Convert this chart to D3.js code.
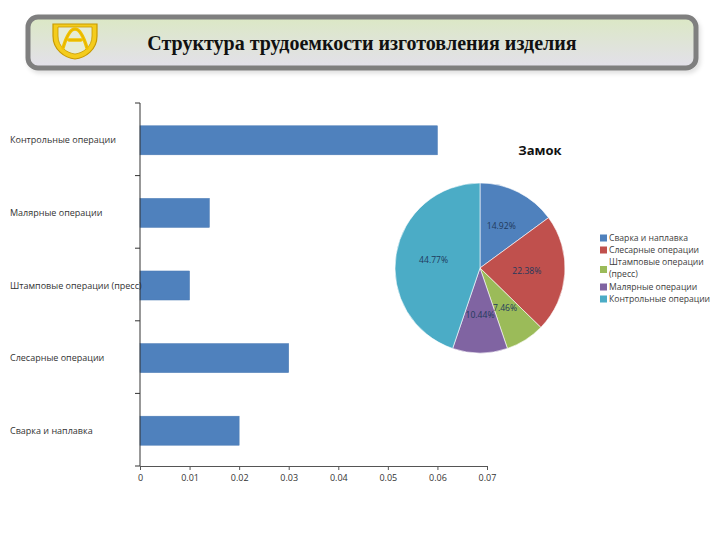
<!DOCTYPE html>
<html><head><meta charset="utf-8">
<script src="https://cdn.jsdelivr.net/npm/d3@7"></script>
<style>body{margin:0;background:#fff}</style>
</head><body>
<svg id="c" width="720" height="540"></svg>
<script>
const title = "Структура трудоемкости изготовления изделия";
const barCategories = ["Контрольные операции","Малярные операции","Штамповые операции (пресс)","Слесарные операции","Сварка и наплавка"];
const barValues = [0.06, 0.014, 0.01, 0.03, 0.02];
const xTicks = [0,0.01,0.02,0.03,0.04,0.05,0.06,0.07];
const xTickLabels = ["0","0.01","0.02","0.03","0.04","0.05","0.06","0.07"];
const pieTitle = "Замок";
const pieCategories = ["Сварка и наплавка","Слесарные операции","Штамповые операции (пресс)","Малярные операции","Контрольные операции"];
const pieValues = [14.92, 22.38, 7.46, 10.44, 44.77];
const pieColors = ["#4f81bd","#c0504d","#9bbb59","#8064a2","#4bacc6"];

const svg = d3.select("#c");
const defs = svg.append("defs");
const g1 = defs.append("linearGradient").attr("id","hdr").attr("x1",0).attr("y1",0).attr("x2",0).attr("y2",1);
g1.append("stop").attr("offset","0%").attr("stop-color","#dbe8c4");
g1.append("stop").attr("offset","100%").attr("stop-color","#e3e0eb");
const f = defs.append("filter").attr("id","sh").attr("x","-5%").attr("y","-20%").attr("width","110%").attr("height","150%");
f.append("feDropShadow").attr("dx",2).attr("dy",3).attr("stdDeviation",2).attr("flood-color","#000").attr("flood-opacity",0.12);

// header box
svg.append("rect").attr("x",28).attr("y",17).attr("width",668).attr("height",51).attr("rx",10)
  .attr("fill","url(#hdr)").attr("stroke","#7f7f7f").attr("stroke-width",5).attr("filter","url(#sh)");
// shield logo
const lg = svg.append("g").attr("transform","translate(75,24)");
lg.append("path").attr("d","M-22,0 L22,0 L22,12 C22,26 10,34 0,35 C-10,34 -22,26 -22,12 Z")
  .attr("fill","#f4cc1c").attr("stroke","#c89a00").attr("stroke-width",1.2);
lg.append("path").attr("d","M-17,3 L17,3 L17,12 C17,23 8,29 0,30 C-8,29 -17,23 -17,12 Z")
  .attr("fill","#e6ecd6").attr("stroke","#c89a00").attr("stroke-width",0.8);
lg.append("path").attr("d","M-12,24 C-9,14 -5,5 0,5 C5,5 9,14 12,24 M-6,16 L6,16").attr("fill","none").attr("stroke","#f2c200").attr("stroke-width",3.4).attr("stroke-linecap","round");
lg.append("path").attr("d","M-12,24 C-9,14 -5,5 0,5 C5,5 9,14 12,24 M-6,16 L6,16").attr("fill","none").attr("stroke","#c89a00").attr("stroke-width",0.6).attr("stroke-opacity",0.6);
svg.append("text").attr("x",362).attr("y",50).attr("text-anchor","middle")
  .attr("font-family","Liberation Serif, DejaVu Serif, serif").attr("font-weight","bold").attr("font-size",20)
  .attr("fill","#111").text(title);

// bar chart
const bx = d3.scaleLinear().domain([0,0.07]).range([140,487]);
const by = d3.scaleBand().domain(barCategories).range([103,466]).paddingInner(0.6).paddingOuter(0.3);
const bg = svg.append("g");
bg.selectAll("rect.bar").data(barValues).join("rect").attr("class","bar")
  .attr("x",bx(0)).attr("y",(d,i)=>by(barCategories[i])+1).attr("width",d=>bx(d)-bx(0)).attr("height",by.bandwidth())
  .attr("fill","#4f81bd").attr("stroke","#4a7ab3").attr("stroke-width",0.5);
// y axis
const yAx = svg.append("g");
yAx.append("line").attr("x1",140).attr("x2",140).attr("y1",103).attr("y2",466).attr("stroke","#333").attr("stroke-width",1);
const step = (466-103)/barCategories.length;
d3.range(barCategories.length+1).forEach(i=>{
  yAx.append("line").attr("x1",135).attr("x2",140).attr("y1",103+i*step).attr("y2",103+i*step).attr("stroke","#333");
});
yAx.selectAll("text").data(barCategories).join("text")
  .attr("x",10).attr("y",d=>by(d)+by.bandwidth()/2+4).attr("font-family","Open Sans, DejaVu Sans, sans-serif")
  .attr("font-size",9).attr("fill","#333").text(d=>d);
// x axis
const xAxis = d3.axisBottom(bx).tickValues(xTicks).tickFormat((d,i)=>xTickLabels[i]).tickSize(4).tickSizeOuter(0);
const xg = svg.append("g").attr("transform","translate(0,466)").call(xAxis);
xg.select(".domain").attr("stroke","#555");
xg.selectAll(".tick line").attr("stroke","#555");
xg.selectAll(".tick text").attr("font-family","Open Sans, DejaVu Sans, sans-serif").attr("font-size",9).attr("fill","#333").attr("dy","0.9em");

// pie chart
const cx = 480, cy = 268, r = 85;
const pie = d3.pie().sort(null).value(d=>d)(pieValues);
const arc = d3.arc().innerRadius(0).outerRadius(r);
const lab = d3.arc().innerRadius(47).outerRadius(47);
const pg = svg.append("g").attr("transform",`translate(${cx},${cy})`);
pg.selectAll("path").data(pie).join("path").attr("d",arc).attr("fill",(d,i)=>pieColors[i])
  .attr("stroke","#fff").attr("stroke-width",0.6);
pg.selectAll("text").data(pie).join("text")
  .attr("transform",d=>`translate(${lab.centroid(d)})`).attr("text-anchor","middle").attr("dy","0.35em")
  .attr("font-family","Open Sans, DejaVu Sans, sans-serif").attr("font-size",8.6).attr("fill","#1f3a5c")
  .text((d,i)=>pieValues[i].toFixed(2)+"%");
svg.append("text").attr("x",540).attr("y",155).attr("text-anchor","middle")
  .attr("font-family","Open Sans, DejaVu Sans, sans-serif").attr("font-weight","bold").attr("font-size",13).attr("fill","#111").text(pieTitle);

// legend
const legY = [238, 250, 262, 287, 299];
const lgG = svg.append("g");
pieCategories.forEach((c,i)=>{
  const y = legY[i];
  if (i===2) {
    lgG.append("rect").attr("x",600).attr("y",y+4).attr("width",7).attr("height",7).attr("fill",pieColors[i]);
    lgG.append("text").attr("x",609).attr("y",y+3).attr("font-family","Open Sans, DejaVu Sans, sans-serif").attr("font-size",8.6).attr("fill","#404040").text("Штамповые операции");
    lgG.append("text").attr("x",609).attr("y",y+15).attr("font-family","Open Sans, DejaVu Sans, sans-serif").attr("font-size",8.6).attr("fill","#404040").text("(пресс)");
  } else {
    lgG.append("rect").attr("x",600).attr("y",y-3.5).attr("width",7).attr("height",7).attr("fill",pieColors[i]);
    lgG.append("text").attr("x",609).attr("y",y+3).attr("font-family","Open Sans, DejaVu Sans, sans-serif").attr("font-size",8.6).attr("fill","#404040").text(c);
  }
});
</script>
</body></html>
